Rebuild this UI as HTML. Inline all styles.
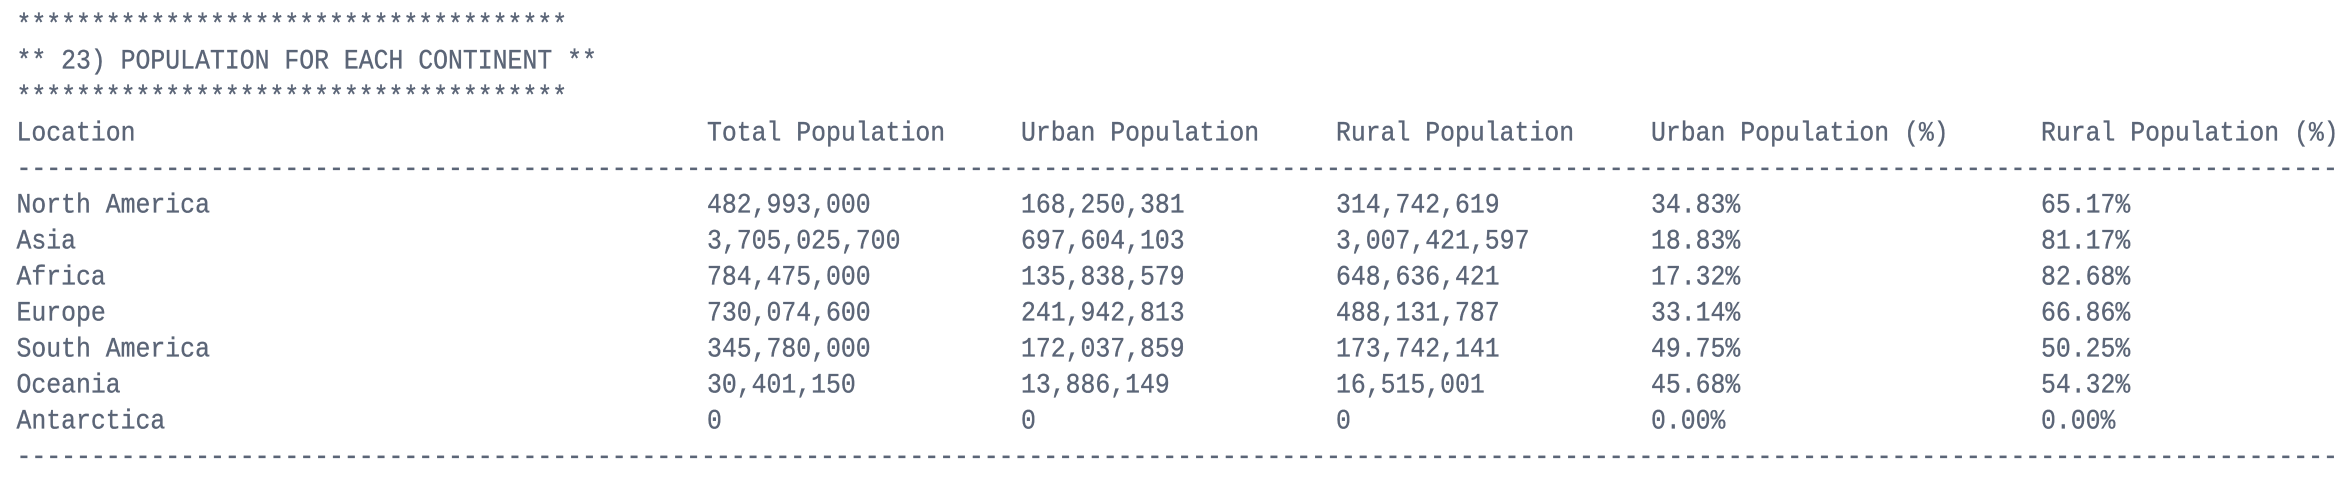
<!DOCTYPE html>
<html><head><meta charset="utf-8"><style>
body{margin:0;background:#fff;width:2350px;height:490px;overflow:hidden;position:relative}
.l{position:absolute;left:0;top:0;width:2350px;height:36px;font-family:"Liberation Mono",monospace;font-size:24.8px;line-height:36px;color:#5b6577;white-space:pre;-webkit-text-stroke:0.3px #5b6577}
.c{position:absolute;top:0;display:inline-block;transform:scaleY(1.12);transform-origin:50% 55%}
</style></head><body>
<div id="out"></div>
<script>
const locations=["North America","Asia","Africa","Europe","South America","Oceania","Antarctica"];
const totalPop=["482,993,000","3,705,025,700","784,475,000","730,074,600","345,780,000","30,401,150","0"];
const urbanPop=["168,250,381","697,604,103","135,838,579","241,942,813","172,037,859","13,886,149","0"];
const ruralPop=["314,742,619","3,007,421,597","648,636,421","488,131,787","173,742,141","16,515,001","0"];
const urbanPct=["34.83%","18.83%","17.32%","33.14%","49.75%","45.68%","0.00%"];
const ruralPct=["65.17%","81.17%","82.68%","66.86%","50.25%","54.32%","0.00%"];
const headers=["Location","Total Population","Urban Population","Rural Population","Urban Population (%)","Rural Population (%)"];
const colX=[16.5,707,1021,1336,1651,2041];
const out=document.getElementById('out');
function line(top,cells,name){
  const d=document.createElement('div');d.className='l';d.style.top=top+'px';
  
  
  cells.forEach((t,i)=>{const s=document.createElement('span');s.className='c';s.style.left=colX[i]+'px';s.textContent=t;
    
    
    d.appendChild(s);});
  out.appendChild(d);
}
const stars='*'.repeat(37);const dashes='-'.repeat(156);
line(8,[stars],'title-border-top');
line(44,['** 23) POPULATION FOR EACH CONTINENT **'],'title');
line(80,[stars],'title-border-bottom');
line(116,headers,'header-row');
line(152,[dashes],'header-separator');
locations.forEach((loc,i)=>line(188+i*36,[loc,totalPop[i],urbanPop[i],ruralPop[i],urbanPct[i],ruralPct[i]],'row-'+loc.toLowerCase().replace(/ /g,'-')));
line(188+locations.length*36,[dashes],'footer-separator');
</script>
</body></html>
